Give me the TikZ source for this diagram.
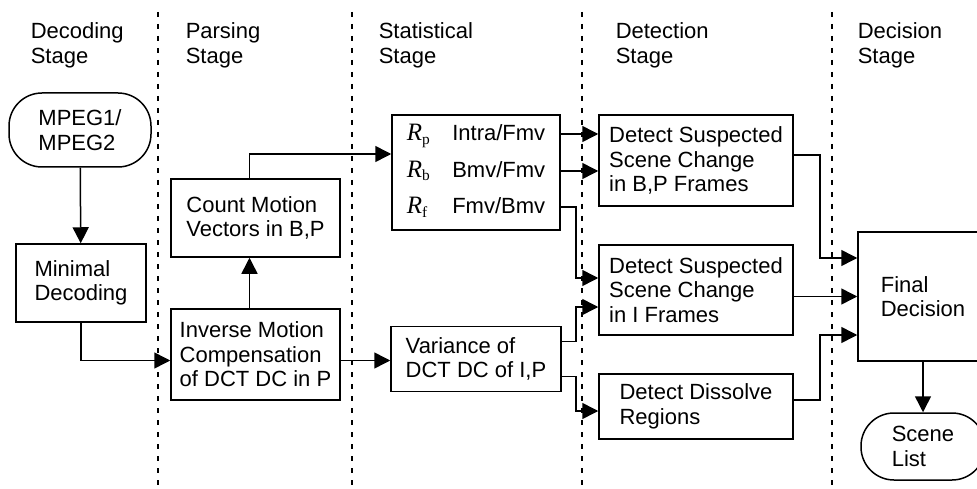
\documentclass[tikz,border=0pt]{standalone}
\usepackage{amsmath}
\usepackage{fontspec}
\setmainfont{Liberation Sans}
\newfontfamily\serifrm{Liberation Serif}
\usetikzlibrary{shapes,arrows.meta}

\newcommand{\ratio}[1]{{\serifrm\fontsize{25}{25}\selectfont\itshape R}\textsubscript{\serifrm #1}}

\begin{document}
\begin{tikzpicture}[x=1pt,y=-1pt,line width=1.5pt,
  box/.style={draw, rectangle, align=left, inner sep=0pt, font=\fontsize{22}{24.5}\selectfont},
  term/.style={box, rounded corners=33pt},
  stage/.style={anchor=north west, inner sep=0pt, align=left, font=\fontsize{22}{24.5}\selectfont},
  arr/.style={-{Triangle[length=16pt,width=16pt]}}]
  \useasboundingbox (0,0) rectangle (977,489);

  % stage separators and titles
  \foreach \x in {158,352,582,832}
    \draw[line width=1.3pt, dash pattern=on 5pt off 7pt] (\x,12) -- (\x,489);
  \foreach \x/\nm/\txt in {30/sdec/Decoding, 185/spar/Parsing, 378/ssta/Statistical, 615/sdet/Detection, 857/sdcs/Decision}{
    \node[stage] (\nm) at (\x,22) {\txt\\Stage}; }

  % blocks
  \node[term, minimum width=142, minimum height=74] (mpeg) at (80,130) {MPEG1/\\MPEG2};
  \node[box, minimum width=130, minimum height=78] (mindec) at (81,283) {Minimal\\Decoding};
  \node[box, minimum width=169, minimum height=78] (count) at (255.5,218) {Count Motion\\Vectors in B,P};
  \node[box, minimum width=169, minimum height=91] (inv) at (255.5,354.5) {Inverse Motion\\Compensation\\of DCT DC in P};
  \node[box, minimum width=168, minimum height=115] (stat) at (476,172.5)
    {\begin{tabular}{@{}l@{\quad}l@{}}\ratio{p} & Intra/Fmv\\[12pt] \ratio{b} & Bmv/Fmv\\[12pt] \ratio{f} & Fmv/Bmv\end{tabular}};
  \node[box, minimum width=170, minimum height=65] (var) at (476,359) {Variance of\\DCT DC of I,P};
  \node[box, minimum width=194, minimum height=91] (det1) at (696,160.5) {Detect Suspected\\Scene Change\\in B,P Frames};
  \node[box, minimum width=194, minimum height=90] (det2) at (696,290) {Detect Suspected\\Scene Change\\in I Frames};
  \node[box, minimum width=194, minimum height=65] (det3) at (696,406.5) {Detect Dissolve\\Regions};
  \node[box, minimum width=130, minimum height=129] (final) at (923,296.5) {Final\\Decision};
  \node[term, minimum width=124, minimum height=67] (scene) at (923,446.5) {Scene\\List};

  % connectors
  \draw[arr] (mpeg) -- (mindec);
  \draw[arr] (mindec.south) |- ([yshift=-6]inv.west);
  \draw[arr] ([xshift=-6]inv.north) -- ([xshift=-6]count.south);
  \draw[arr] ([xshift=-6]count.north) |- ([yshift=18.5]stat.west);
  \draw[arr] ([yshift=-6]inv.east) -- ([yshift=-6]inv.east -| var.west);
  \draw[arr] ([yshift=38.5]stat.east) -- ([yshift=38.5]stat.east -| det1.west);
  \draw[arr] ([yshift=1.5]stat.east) -- ([yshift=1.5]stat.east -| det1.west);
  \draw[arr] ([yshift=-34.5]stat.east) -- ++(15,0) |- ([yshift=12]det2.west);
  \draw[arr] ([yshift=17.5]var.east) -- ++(14,0) |- ([yshift=-17]det2.west);
  \draw[arr] ([yshift=-17.5]var.east) -- ++(14,0) |- ([yshift=-4.5]det3.west);
  \draw[arr] ([yshift=5.5]det1.east) -- ++(26,0) |- ([yshift=38.5]final.west);
  \draw[arr] (final.west -| det2.east) -- (final.west);
  \draw[arr] ([yshift=6.5]det3.east) -- ++(26,0) |- ([yshift=-38.5]final.west);
  \draw[arr] (final) -- (scene);
\end{tikzpicture}
\end{document}
